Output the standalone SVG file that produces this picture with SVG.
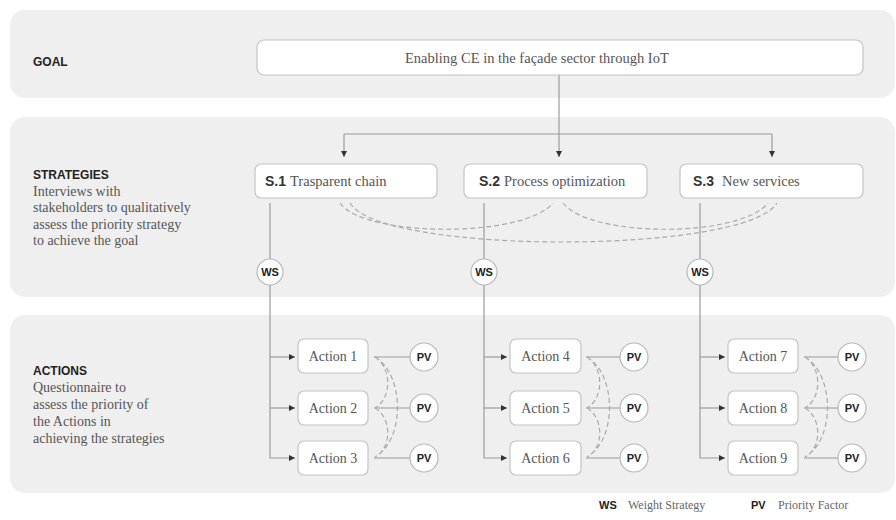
<svg xmlns="http://www.w3.org/2000/svg" width="896" height="520" viewBox="0 0 896 520">
<defs>
<marker id="arr" viewBox="0 0 6 6" refX="6" refY="3" markerWidth="6" markerHeight="6" markerUnits="userSpaceOnUse" orient="auto"><path d="M0,0 L6,3 L0,6 z" fill="#333"/></marker>
<style>
.panel{fill:#efefef}
.box{fill:#fff;stroke:#c4c4c4;stroke-width:1.2}
.circ{fill:#fff;stroke:#b8b8b8;stroke-width:1.2}
.ln{fill:none;stroke:#9a9a9a;stroke-width:1.2}
.dash{fill:none;stroke:#aaa;stroke-width:1.2;stroke-dasharray:5 3}
.hd{font-family:"Liberation Sans",Arial,sans-serif;font-weight:bold;font-size:12px;fill:#222}
.sb{font-family:"Liberation Sans",Arial,sans-serif;font-weight:bold;font-size:14px;fill:#333}
.ci{font-family:"Liberation Sans",Arial,sans-serif;font-weight:bold;font-size:11px;fill:#222;text-anchor:middle}
.sr{font-family:"Liberation Serif","Times New Roman",serif;font-size:14px;fill:#555}
.ac{font-family:"Liberation Serif","Times New Roman",serif;font-size:14px;fill:#555;text-anchor:middle}
.lg{font-family:"Liberation Serif","Times New Roman",serif;font-size:12px;fill:#666}
</style>
</defs>
<rect width="896" height="520" fill="#fff"/>
<g id="panels">
<rect class="panel" x="10" y="10" width="885" height="88" rx="15"/>
<rect class="panel" x="10" y="117" width="885" height="180" rx="15"/>
<rect class="panel" x="10" y="315" width="885" height="178" rx="15"/>
</g>
<g id="labels">
<text class="hd" x="33" y="66">GOAL</text>
<text class="hd" x="33" y="179">STRATEGIES</text>
<text class="sr" x="33" y="196">Interviews with</text>
<text class="sr" x="33" y="212">stakeholders to qualitatively</text>
<text class="sr" x="33" y="229">assess the priority strategy</text>
<text class="sr" x="33" y="245">to achieve the goal</text>
<text class="hd" x="33" y="375">ACTIONS</text>
<text class="sr" x="33" y="392">Questionnaire to</text>
<text class="sr" x="33" y="409">assess the priority of</text>
<text class="sr" x="33" y="426">the Actions in</text>
<text class="sr" x="33" y="443">achieving the strategies</text>
</g>
<g id="connectors">
<path class="ln" d="M559,75 V157" marker-end="url(#arr)"/>
<path class="ln" d="M344,134 H772"/>
<path class="ln" d="M344,134 V157" marker-end="url(#arr)"/>
<path class="ln" d="M772,134 V157" marker-end="url(#arr)"/>
<path class="dash" d="M340,203 C365,238 525,238 553,203"/>
<path class="dash" d="M350,203 C380,255 745,255 777,203"/>
<path class="dash" d="M563,203 C590,238 740,238 768,203"/>
<path class="ln" d="M270,203 V458 H295" marker-end="url(#arr)"/>
<path class="ln" d="M270,357 H295" marker-end="url(#arr)"/>
<path class="ln" d="M270,408 H295" marker-end="url(#arr)"/>
<path class="ln" d="M484,203 V458 H507" marker-end="url(#arr)"/>
<path class="ln" d="M484,357 H507" marker-end="url(#arr)"/>
<path class="ln" d="M484,408 H507" marker-end="url(#arr)"/>
<path class="ln" d="M700,203 V458 H725" marker-end="url(#arr)"/>
<path class="ln" d="M700,357 H725" marker-end="url(#arr)"/>
<path class="ln" d="M700,408 H725" marker-end="url(#arr)"/>
<path class="ln" d="M374,357 H410 M374,408 H410 M374,458 H410"/>
<path class="ln" d="M586,357 H620 M586,408 H620 M586,458 H620"/>
<path class="ln" d="M804,357 H838 M804,408 H838 M804,458 H838"/>
<path class="dash" d="M375,357 C392,368 392,398 375,408 M375,408 C392,418 392,448 375,457 M375,357 C405,375 405,440 375,457"/>
<path class="dash" d="M587,357 C604,368 604,398 587,408 M587,408 C604,418 604,448 587,457 M587,357 C617,375 617,440 587,457"/>
<path class="dash" d="M805,357 C822,368 822,398 805,408 M805,408 C822,418 822,448 805,457 M805,357 C835,375 835,440 805,457"/>
</g>
<g id="goal">
<rect class="box" x="257" y="40" width="606" height="35" rx="7"/>
<text class="sr" x="405" y="63" style="font-size:14.5px">Enabling CE in the façade sector through IoT</text>
</g>
<g id="s1">
<rect class="box" x="255" y="164" width="182" height="34" rx="6"/>
<text x="265" y="186"><tspan class="sb">S.1</tspan><tspan class="sr" dx="4" style="font-size:14.5px">Trasparent chain</tspan></text>
</g>
<g id="s2">
<rect class="box" x="464" y="164" width="183" height="34" rx="6"/>
<text x="479" y="186"><tspan class="sb">S.2</tspan><tspan class="sr" dx="4" style="font-size:14.5px">Process optimization</tspan></text>
</g>
<g id="s3">
<rect class="box" x="680" y="164" width="183" height="34" rx="6"/>
<text x="693" y="186"><tspan class="sb">S.3</tspan><tspan class="sr" dx="8" style="font-size:14.5px">New services</tspan></text>
</g>
<g id="ws1"><circle class="circ" cx="270" cy="272" r="13"/><text class="ci" x="270" y="276">WS</text></g>
<g id="ws2"><circle class="circ" cx="484" cy="272" r="13"/><text class="ci" x="484" y="276">WS</text></g>
<g id="ws3"><circle class="circ" cx="700" cy="272" r="13"/><text class="ci" x="700" y="276">WS</text></g>
<g id="a1"><rect class="box" x="298" y="339" width="70" height="34" rx="6"/><text class="ac" x="333" y="361">Action 1</text></g>
<g id="a2"><rect class="box" x="298" y="391" width="70" height="34" rx="6"/><text class="ac" x="333" y="413">Action 2</text></g>
<g id="a3"><rect class="box" x="298" y="441" width="70" height="34" rx="6"/><text class="ac" x="333" y="463">Action 3</text></g>
<g id="a4"><rect class="box" x="510" y="339" width="71" height="34" rx="6"/><text class="ac" x="545.5" y="361">Action 4</text></g>
<g id="a5"><rect class="box" x="510" y="391" width="71" height="34" rx="6"/><text class="ac" x="545.5" y="413">Action 5</text></g>
<g id="a6"><rect class="box" x="510" y="441" width="71" height="34" rx="6"/><text class="ac" x="545.5" y="463">Action 6</text></g>
<g id="a7"><rect class="box" x="728" y="339" width="70" height="34" rx="6"/><text class="ac" x="763" y="361">Action 7</text></g>
<g id="a8"><rect class="box" x="728" y="391" width="70" height="34" rx="6"/><text class="ac" x="763" y="413">Action 8</text></g>
<g id="a9"><rect class="box" x="728" y="441" width="70" height="34" rx="6"/><text class="ac" x="763" y="463">Action 9</text></g>
<g id="pv1"><circle class="circ" cx="424" cy="357" r="14"/><text class="ci" x="424" y="361">PV</text></g>
<g id="pv2"><circle class="circ" cx="424" cy="408" r="14"/><text class="ci" x="424" y="412">PV</text></g>
<g id="pv3"><circle class="circ" cx="424" cy="458" r="14"/><text class="ci" x="424" y="462">PV</text></g>
<g id="pv4"><circle class="circ" cx="634" cy="357" r="14"/><text class="ci" x="634" y="361">PV</text></g>
<g id="pv5"><circle class="circ" cx="634" cy="408" r="14"/><text class="ci" x="634" y="412">PV</text></g>
<g id="pv6"><circle class="circ" cx="634" cy="458" r="14"/><text class="ci" x="634" y="462">PV</text></g>
<g id="pv7"><circle class="circ" cx="852" cy="357" r="14"/><text class="ci" x="852" y="361">PV</text></g>
<g id="pv8"><circle class="circ" cx="852" cy="408" r="14"/><text class="ci" x="852" y="412">PV</text></g>
<g id="pv9"><circle class="circ" cx="852" cy="458" r="14"/><text class="ci" x="852" y="462">PV</text></g>
<g id="legend">
<text class="ci" x="599" y="509" style="text-anchor:start">WS</text>
<text class="lg" x="628" y="509">Weight Strategy</text>
<text class="ci" x="751" y="509" style="text-anchor:start">PV</text>
<text class="lg" x="778" y="509">Priority Factor</text>
</g>
</svg>
